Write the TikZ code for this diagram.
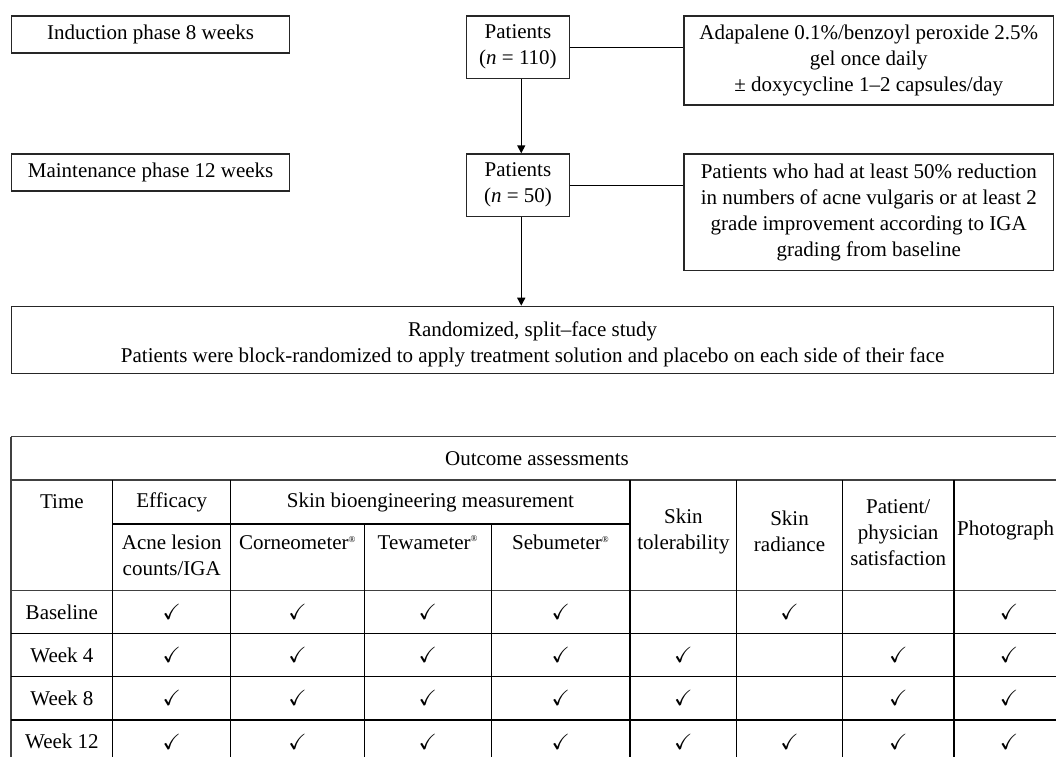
\documentclass[tikz,border=0pt]{standalone}
\usepackage{fontspec}
\usepackage{amssymb}
\setmainfont{Liberation Serif}
\usetikzlibrary{arrows.meta}
\newcommand\myfs{\fontsize{21}{26}\selectfont}
\newcommand\reg{\textsuperscript{\fontsize{9}{9}\selectfont ®}}
\newcommand\ck{{\fontsize{22}{22}\selectfont$\checkmark$}}
\begin{document}
\begin{tikzpicture}[x=1pt,y=-1pt,
  box/.style={draw=black!85, line width=1.2pt, inner sep=0pt, align=center, font=\myfs, anchor=north west},
  link/.style={draw=black, line width=1.5pt},
  arr/.style={link, -{Triangle[length=8pt,width=8pt]}},
  tline/.style={draw=black, line width=1.5pt},
  oline/.style={draw=black!75, line width=1.3pt},
  txt/.style={font=\myfs, align=center, inner sep=0pt},
  chk/.style={inner sep=0pt}]
\useasboundingbox (0,0) rectangle (1056,756);
\clip (0,0) rectangle (1056,756);
\fill[white] (0,0) rectangle (1056,756);
% flow part
\node[box, minimum width=278pt, minimum height=37pt] (ind) at (11,15.3) {Induction phase 8 weeks};
\node[box, minimum width=278pt, minimum height=37pt] (mnt) at (11,153.3) {Maintenance phase 12 weeks};
\node[box, minimum width=102.7pt, minimum height=62.7pt] (p1) at (466,15.3) {Patients\\(\textit{n} = 110)};
\node[box, minimum width=102.7pt, minimum height=62.7pt] (p2) at (466,153.3) {Patients\\(\textit{n} = 50)};
\node[box, minimum width=369.7pt, minimum height=89pt] (r1) at (683.3,15.3) {Adapalene 0.1\%/benzoyl peroxide 2.5\%\\gel once daily\\± doxycycline 1–2 capsules/day};
\node[box, minimum width=369.7pt, minimum height=116.7pt] (r2) at (683.3,153.3) {Patients who had at least 50\% reduction\\in numbers of acne vulgaris or at least 2\\grade improvement according to IGA\\grading from baseline};
\node[box, minimum width=1042pt, minimum height=67.3pt] (rand) at (11,305.7) {\rule{0pt}{24pt}Randomized, split–face study\\Patients were block-randomized to apply treatment solution and placebo on each side of their face};
\draw[link] (p1.east) -- (p1.east -| r1.west);
\draw[link] (p2.east) -- (p2.east -| r2.west);
\draw[arr] ([xshift=3.3pt]p1.south) -- ([xshift=3.3pt]p2.north);
\draw[arr] ([xshift=3.3pt]p2.south) -- ([xshift=3.3pt]p2.south |- rand.north);
% table
\def\ca{11}\def\cb{112.7}\def\cc{230.7}\def\cd{364.3}\def\ce{491.3}\def\cf{630}\def\cg{736.7}\def\ch{842.3}\def\ci{954}\def\cj{1064}
\def\ra{436.7}\def\rb{480}\def\rc{524}\def\rd{590.7}\def\re{633.3}\def\rf{676.7}\def\rg{720}\def\rh{763.3}
\draw[oline] (\ca,\ra) -- (\cj,\ra);
\draw[oline] (\ca,\rb) -- (\cj,\rb);
\draw[oline] (\ca,\rd) -- (\cj,\rd);
\draw[oline] (\ca,\ra) -- (\ca,\rh);
\draw[tline] (\cb,\rc) -- (\cf,\rc);
\foreach \y in {\re,\rf,\rg,\rh} {\draw[tline] (\ca,\y) -- (\cj,\y);}
\foreach \x in {\cb,\cc,\cf,\cg,\ch,\ci} {\draw[tline] (\x,\rb) -- (\x,\rh);}
\foreach \x in {\cd,\ce} {\draw[tline] (\x,\rc) -- (\x,\rh);}
\draw[oline] (\cj,\ra) -- (\cj,\rh);
% header texts
\node[txt] (oa) at (537,458.3) {Outcome assessments};
\node[txt] (tm) at (61.9,502) {Time};
\node[txt] (ef) at (171.7,502) {Efficacy};
\node[txt] (sb) at (430.4,502) {Skin bioengineering measurement};
\node[txt] (al) at (171.7,555.5) {Acne lesion\\counts/IGA};
\node[txt] (co) at (297.5,542.7) {Corneometer\reg};
\node[txt] (tw) at (427.8,542.7) {Tewameter\reg};
\node[txt] (se) at (560.7,542.7) {Sebumeter\reg};
\node[txt] (st) at (683.4,531.5) {Skin\\tolerability};
\node[txt] (sr) at (789.5,531.5) {Skin\\radiance};
\node[txt] (ps) at (898.2,533) {Patient/\\physician\\satisfaction};
\node[txt, anchor=west] (ph) at (957,530.7) {Photograph};
% row labels
\node[txt] (w0) at (61.9,612) {Baseline};
\node[txt] (w4) at (61.9,655) {Week 4};
\node[txt] (w8) at (61.9,698.3) {Week 8};
\node[txt] (w12) at (61.9,741.7) {Week 12};
% checks
\foreach \x in {171.7,297.5,427.8,560.7,789.5,1009} {\node[chk] at (\x,612) {\ck};}
\foreach \x in {171.7,297.5,427.8,560.7,683.4,898.2,1009} {\node[chk] at (\x,655) {\ck};}
\foreach \x in {171.7,297.5,427.8,560.7,683.4,898.2,1009} {\node[chk] at (\x,698.3) {\ck};}
\foreach \x in {171.7,297.5,427.8,560.7,683.4,789.5,898.2,1009} {\node[chk] at (\x,741.7) {\ck};}
\end{tikzpicture}
\end{document}
